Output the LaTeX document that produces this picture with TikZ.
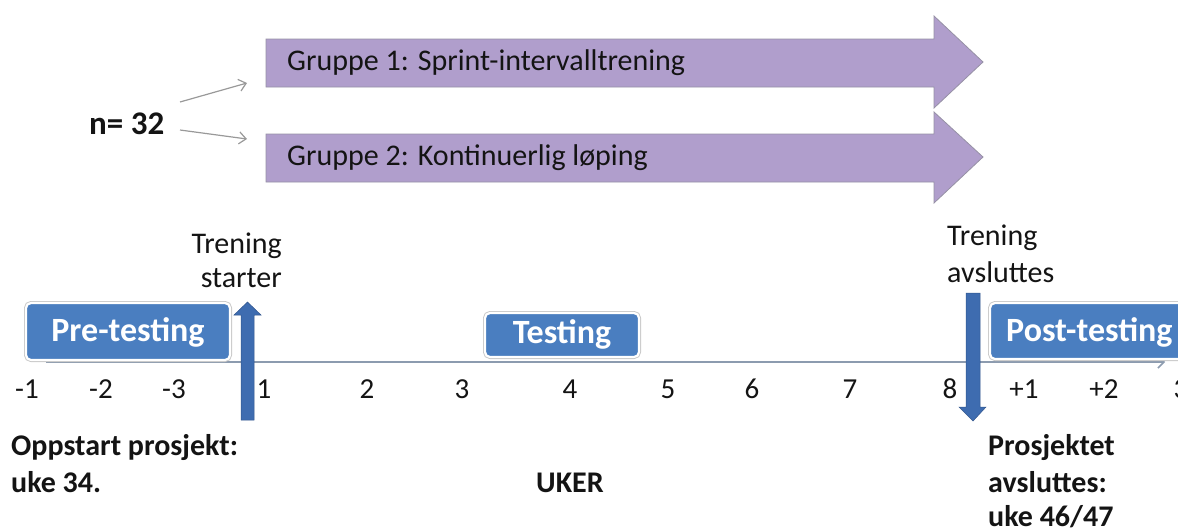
\documentclass[tikz,border=0pt]{standalone}
\usepackage{fontspec}
\setmainfont{Carlito}
\usetikzlibrary{arrows.meta}
\definecolor{lav}{RGB}{176,158,204}
\definecolor{lavedge}{RGB}{150,145,165}
\definecolor{boxblue}{RGB}{74,126,192}
\definecolor{arrblue}{RGB}{62,108,176}
\definecolor{linegray}{RGB}{140,155,175}
\definecolor{txt}{RGB}{20,20,20}
\tikzset{
  bigarrow/.style={fill=lav, draw=lavedge, line width=0.8pt},
  blockarrow/.style={fill=arrblue, draw=arrblue!80!black, line width=0.5pt},
  phasebox/.style={fill=boxblue, draw=white, line width=2.2pt, rounded corners=5pt,
    preaction={draw=gray!45, line width=4pt}},
  phaselabel/.style={font=\fontsize{34}{38}\selectfont\bfseries, text=white, inner sep=0pt},
  reg/.style={font=\fontsize{30}{34}\selectfont, text=txt, inner sep=0pt},
  boldtxt/.style={font=\fontsize{30}{37}\selectfont\bfseries, text=txt, inner sep=0pt},
  num/.style={font=\fontsize{29}{33}\selectfont, text=txt, inner sep=0pt, anchor=base},
  thin/.style={draw=gray!80, line width=1.2pt, -{Straight Barb[length=7pt,width=12pt]}}
}
\begin{document}
\begin{tikzpicture}[x=1pt,y=-1pt]
\useasboundingbox (0,0) rectangle (1178,531);
\clip (0,0) rectangle (1178,531);
% group arrows
\draw[bigarrow] (266,39) -- (934,39) -- (934,16) -- (983,62) -- (934,108) -- (934,87) -- (266,87) -- cycle;
\draw[bigarrow] (266,134) -- (934,134) -- (934,112) -- (983,157) -- (934,203) -- (934,182) -- (266,182) -- cycle;
\node[reg, anchor=base west] (g1) at (287,70) {Gruppe 1: Sprint-intervalltrening};
\node[reg, anchor=base west] (g2) at (287,165) {Gruppe 2: Kontinuerlig løping};
\node[font=\fontsize{33}{36}\selectfont\bfseries, text=txt, inner sep=0pt, anchor=base west] (n) at (89,134) {n= 32};
\coordinate (a1s) at (180,102); \coordinate (a1e) at (247,83);
\coordinate (a2s) at (180,130); \coordinate (a2e) at (247,139);
\draw[thin] (a1s) -- (a1e);
\draw[thin] (a2s) -- (a2e);
% timeline
\coordinate (tl0) at (46,362); \coordinate (tl1) at (1165,362);
\draw[draw=linegray, line width=1.6pt, -{Straight Barb[length=6pt,width=12pt]}] (tl0) -- (tl1);
% phase boxes
\draw[phasebox] (26,303) rectangle (230,360);
\node[phaselabel] (pre) at (128,332) {Pre-testing};
\draw[phasebox] (485,313) rectangle (639,357);
\node[phaselabel] (test) at (562,334) {Testing};
\draw[phasebox] (990,303) rectangle (1220,359);
\node[phaselabel, anchor=west] (post) at (1006,332) {Post-testing};
% block arrows
\draw[blockarrow] (241,420) -- (241,315) -- (234,315) -- (247.5,302) -- (261,315) -- (254,315) -- (254,420) -- cycle;
\draw[blockarrow] (966,293) -- (980,293) -- (980,407) -- (986,407) -- (973,421) -- (959,407) -- (966,407) -- cycle;
% labels
\node[reg, anchor=base east] (ts1) at (282,253) {Trening};
\node[reg, anchor=base east] (ts2) at (282,287) {starter};
\node[reg, anchor=base west] (ta1) at (947,245) {Trening};
\node[reg, anchor=base west] (ta2) at (947,282) {avsluttes};
% numbers
\foreach \x/\t in {27/-1,101/-2,174/-3,264/1,367/2,462/3,570/4,668/5,752/6,850/7,950/8,1024/+1,1104/+2,1181/3}
  \node[num] at (\x,398) {\t};
% bottom
\node[boldtxt, anchor=base west] (op1) at (11,455) {Oppstart prosjekt:};
\node[boldtxt, anchor=base west] (op2) at (11,492) {uke 34.};
\node[boldtxt, anchor=base west] (uker) at (536,492) {UKER};
\node[boldtxt, anchor=base west] (pa1) at (988,455) {Prosjektet};
\node[boldtxt, anchor=base west] (pa2) at (988,492) {avsluttes:};
\node[boldtxt, anchor=base west] (pa3) at (988,526) {uke 46/47};
\end{tikzpicture}
\end{document}
